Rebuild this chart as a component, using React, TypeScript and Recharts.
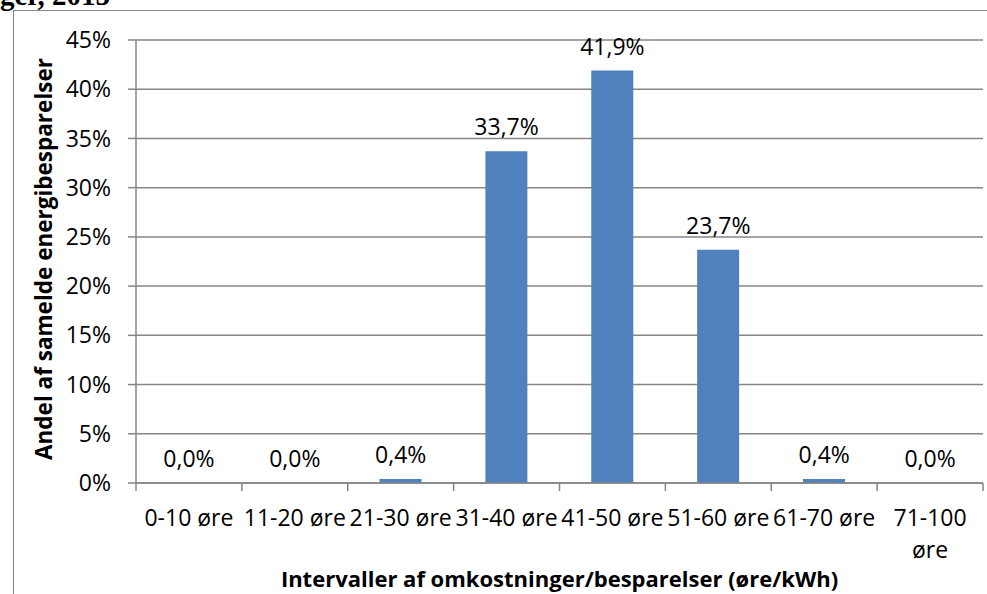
import { ComposedChart, Bar, Line, XAxis, YAxis, CartesianGrid, LabelList, Label } from "recharts";

const categories = [
  "0-10 øre",
  "11-20 øre",
  "21-30 øre",
  "31-40 øre",
  "41-50 øre",
  "51-60 øre",
  "61-70 øre",
  "71-100 øre",
];
const shares = [0, 0, 0.4, 33.7, 41.9, 23.7, 0.4, 0];
const yTicks = [0, 5, 10, 15, 20, 25, 30, 35, 40, 45];

const data = categories.map((name, i) => ({ name, share: shares[i] }));

const FONT = "'Open Sans', sans-serif";
const GRAY = "#868686";
const W = 987;
const H = 594;
const PLOT_LEFT = 136;
const PLOT_RIGHT = 983;
const BAND = (PLOT_RIGHT - PLOT_LEFT) / categories.length;
const FS = 23;

const fmt = (v: number) => `${v.toFixed(1).replace(".", ",")}%`;

// labels longer than 9 chars do not fit a band, so break at the last space
const splitLabel = (s: string) => {
  const i = s.lastIndexOf(" ");
  return s.length > 9 && i > 0 ? [s.slice(0, i), s.slice(i + 1)] : [s];
};

function CategoryTick(props: any) {
  const { x, y, payload, index } = props;
  const last = index === categories.length - 1;
  const lines = splitLabel(String(payload.value));
  return (
    <g>
      <line x1={x - BAND / 2} y1={y} x2={x - BAND / 2} y2={y + 8} stroke={GRAY} strokeWidth={1.5} />
      {last && (
        <line x1={x + BAND / 2} y1={y} x2={x + BAND / 2} y2={y + 8} stroke={GRAY} strokeWidth={1.5} />
      )}
      <text x={x} y={y + 43} textAnchor="middle" fontSize={FS} fontFamily={FONT} fill="#000">
        {lines.map((l, i) => (
          <tspan key={i} x={x} dy={i === 0 ? 0 : 32}>
            {l}
          </tspan>
        ))}
      </text>
    </g>
  );
}

export default function App() {
  return (
    <div style={{ position: "absolute", left: 0, top: 0, width: W, height: H, overflow: "hidden", background: "#fff" }}>
      <div
        style={{
          position: "absolute",
          left: 0,
          top: -19,
          fontFamily: "'Liberation Serif', serif",
          fontWeight: "bold",
          fontSize: 29,
          lineHeight: "29px",
          whiteSpace: "nowrap",
        }}
      >
        ger, 2015
      </div>
      <div
        style={{
          position: "absolute",
          left: 13,
          top: 10,
          width: W,
          height: H,
          border: `1.5px solid ${GRAY}`,
          boxSizing: "border-box",
        }}
      />
      <div style={{ position: "absolute", left: 0, top: 0 }}>
        <ComposedChart
          width={W}
          height={H}
          data={data}
          margin={{ top: 40, right: W - PLOT_RIGHT, left: 0, bottom: 0 }}
          barCategoryGap="30%"
        >
          <CartesianGrid vertical={false} stroke={GRAY} strokeWidth={1.5} />
          <XAxis
            dataKey="name"
            height={111}
            interval={0}
            tickSize={0}
            tickMargin={0}
            tickLine={false}
            axisLine={{ stroke: GRAY, strokeWidth: 1.5 }}
            tick={<CategoryTick />}
          >
            <Label
              content={() => (
                <text
                  x={(PLOT_LEFT + PLOT_RIGHT) / 2}
                  y={578}
                  textAnchor="middle"
                  dominantBaseline="central"
                  fontFamily={FONT}
                  fontWeight="bold"
                  fontSize={22}
                  fill="#000"
                >
                  Intervaller af omkostninger/besparelser (øre/kWh)
                </text>
              )}
            />
          </XAxis>
          <YAxis
            width={PLOT_LEFT}
            domain={[0, 45]}
            ticks={yTicks}
            tickFormatter={(v: number) => `${v}%`}
            tickSize={8}
            tickMargin={17}
            tickLine={{ stroke: GRAY, strokeWidth: 1.5 }}
            axisLine={{ stroke: GRAY, strokeWidth: 1.5 }}
            tick={{ fill: "#000", fontSize: FS, fontFamily: FONT }}
          >
            <Label
              content={() => (
                <text
                  x={43}
                  y={259}
                  transform="rotate(-90 43 259)"
                  textAnchor="middle"
                  dominantBaseline="central"
                  fontFamily={FONT}
                  fontWeight="bold"
                  fontSize={22.5}
                  fill="#000"
                >
                  Andel af samelde energibesparelser
                </text>
              )}
            />
          </YAxis>
          <Bar dataKey="share" fill="#4F81BD" isAnimationActive={false} />
          <Line
            dataKey="share"
            stroke="none"
            dot={false}
            activeDot={false}
            legendType="none"
            isAnimationActive={false}
          >
            <LabelList
              dataKey="share"
              position="top"
              offset={16}
              formatter={(v: any) => fmt(Number(v))}
              fill="#000"
              fontSize={FS}
              fontFamily={FONT}
            />
          </Line>
        </ComposedChart>
      </div>
    </div>
  );
}
